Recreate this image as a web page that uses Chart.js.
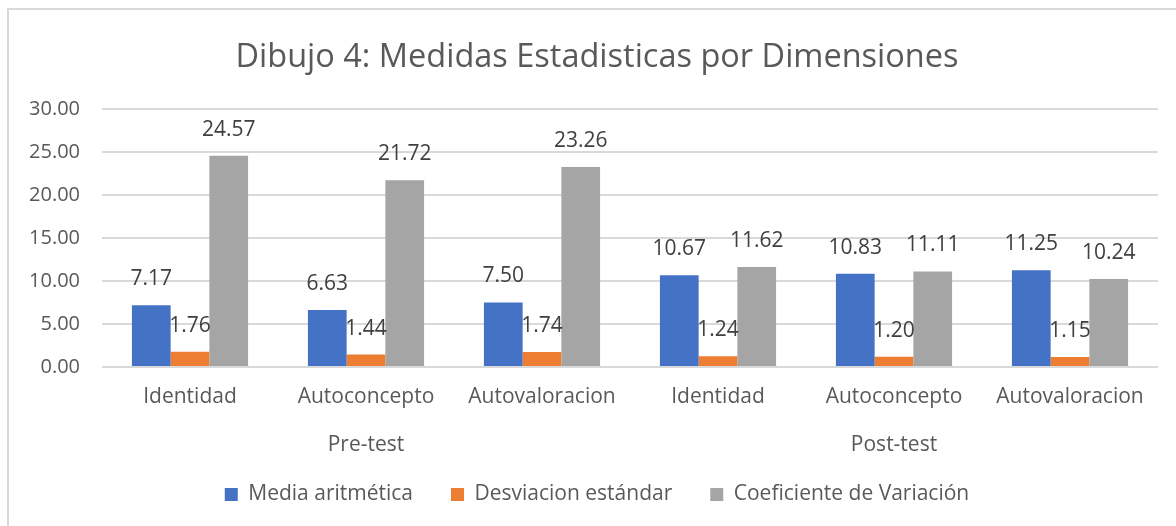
<!DOCTYPE html>
<html>
<head>
<meta charset="utf-8">
<script src="https://cdn.jsdelivr.net/npm/chart.js@4/dist/chart.umd.min.js"></script>
<style>
html,body{margin:0;padding:0;background:#fff;}
#wrap{position:relative;width:1176px;height:526px;}
</style>
</head>
<body>
<div id="wrap"><canvas id="c" width="1176" height="526"></canvas></div>
<script>
const categories = ["Identidad", "Autoconcepto", "Autovaloracion", "Identidad", "Autoconcepto", "Autovaloracion"];
const groupLabels = ["", "Pre-test", "", "", "Post-test", ""];
const mediaAritmetica = [7.17, 6.63, 7.50, 10.67, 10.83, 11.25];
const desviacionEstandar = [1.76, 1.44, 1.74, 1.24, 1.20, 1.15];
const coeficienteVariacion = [24.57, 21.72, 23.26, 11.62, 11.11, 10.24];
const seriesNames = ["Media aritmética", "Desviacion estándar", "Coeficiente de Variación"];
const titleText = "Dibujo 4: Medidas Estadisticas por Dimensiones";

const FONT = "'Open Sans', sans-serif";

const noLabelClip = s => { s._computeLabelArea = function () { return undefined; }; };

const frame = {
  id: 'frame',
  beforeDraw(chart) {
    const ctx = chart.ctx;
    ctx.save();
    ctx.fillStyle = '#fff';
    ctx.fillRect(0, 0, chart.width, chart.height);
    ctx.strokeStyle = '#d9d9d9';
    ctx.lineWidth = 2;
    ctx.strokeRect(8, 9, 1300, 700);
    ctx.restore();
  }
};

const valueLabels = {
  id: 'valueLabels',
  afterDatasetsDraw(chart) {
    const ctx = chart.ctx;
    ctx.save();
    ctx.font = "21px " + FONT;
    ctx.fillStyle = '#404040';
    ctx.textAlign = 'center';
    ctx.textBaseline = 'middle';
    chart.data.datasets.forEach((ds, i) => {
      const meta = chart.getDatasetMeta(i);
      meta.data.forEach((bar, j) => {
        ctx.fillText(ds.data[j].toFixed(2), bar.x, bar.y - 26);
      });
    });
    ctx.restore();
  }
};

new Chart(document.getElementById('c'), {
  type: 'bar',
  data: {
    labels: categories,
    datasets: [
      { label: seriesNames[0], data: mediaAritmetica, backgroundColor: '#4472C4', xAxisID: 'x' },
      { label: seriesNames[1], data: desviacionEstandar, backgroundColor: '#ED7D31', xAxisID: 'x' },
      { label: seriesNames[2], data: coeficienteVariacion, backgroundColor: '#A5A5A5', xAxisID: 'x' }
    ]
  },
  options: {
    responsive: false,
    animation: false,
    devicePixelRatio: 1,
    layout: { padding: { left: 36, right: 18, top: 0, bottom: 11 } },
    datasets: { bar: { categoryPercentage: 0.66, barPercentage: 1.0 } },
    scales: {
      x: {
        type: 'category',
        position: 'bottom',
        grid: { display: false, drawTicks: false },
        border: { display: false },
        ticks: { font: { size: 21, family: FONT }, color: '#595959', padding: 17, maxRotation: 0, autoSkip: false },
        afterFit(s) { s.height = 47; noLabelClip(s); }
      },
      x2: {
        type: 'category',
        position: 'bottom',
        labels: groupLabels,
        grid: { display: false, drawTicks: false },
        border: { display: false },
        ticks: { font: { size: 21, family: FONT }, color: '#595959', padding: 18, maxRotation: 0, autoSkip: false },
        afterFit(s) { s.height = 32; noLabelClip(s); }
      },
      y: {
        min: 0, max: 30,
        ticks: { stepSize: 5, font: { size: 20, family: FONT }, color: '#595959', padding: 22,
          callback: v => Number(v).toFixed(2) },
        grid: { color: '#d9d9d9', lineWidth: 2, drawTicks: false },
        border: { display: false },
        afterFit(s) { s.width = 66; noLabelClip(s); }
      }
    },
    plugins: {
      title: { display: true, text: titleText, color: '#595959',
        font: { size: 32.5, family: FONT, weight: 'normal' }, padding: { top: 38, bottom: 32 } },
      legend: { position: 'bottom',
        labels: { boxWidth: 13, boxHeight: 13, color: '#595959', font: { size: 21, family: FONT }, padding: 38 } },
      tooltip: { enabled: false }
    }
  },
  plugins: [frame, valueLabels]
});
</script>
</body>
</html>
